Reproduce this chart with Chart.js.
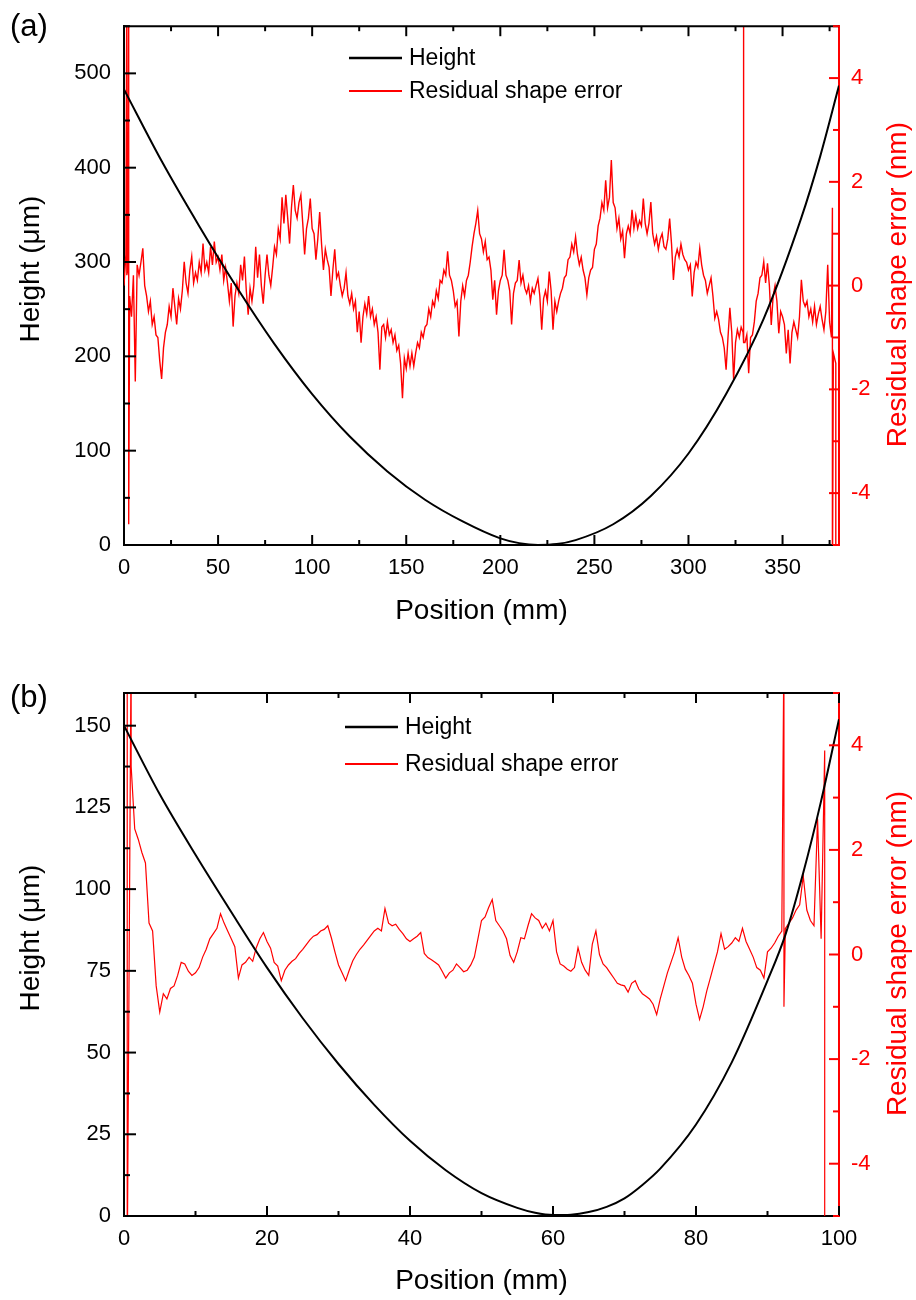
<!DOCTYPE html>
<html>
<head>
<meta charset="utf-8">
<title>Height and residual shape error</title>
<script src="https://cdn.jsdelivr.net/npm/chart.js@4.4.1/dist/chart.umd.min.js"></script>
<style>
  body { margin: 0; background: #fff; }
  canvas { display: block; }
</style>
</head>
<body>
<canvas id="panelA" width="916" height="630"></canvas>
<canvas id="panelB" width="916" height="670"></canvas>
<script>
const rightTicks = [-4, -2, 0, 2, 4]

// ---------- panel (a) ----------
const heightPosA = [0, 20, 40, 60, 80, 100, 120, 140, 160, 180, 200, 210, 220, 230, 240, 260, 280, 300, 320, 340, 360, 370, 380]
const heightA = [483, 407, 338, 273, 213, 160, 115, 78, 48, 25, 7, 2, 0.1, 1, 5.2, 22, 52, 97, 160, 240, 347, 412, 487]
const errStartA = 0
const errStepA = 1 // mm between residual samples
const errA = [
  0.0, 0.6, 0.3, -0.2, -0.6, 0.2, -1.85, 0.4, 0.2, 0.45,
  0.72, 0.0, -0.2, -0.5, -0.3, -0.75, -0.6, -0.95, -1.0, -1.45,
  -1.8, -1.2, -0.9, -0.75, -0.4, -0.6, -0.05, -0.4, -0.75, -0.25,
  -0.45, -0.1, 0.46, 0.05, -0.15, 0.3, 0.56, 0.05, 0.25, 0.1,
  0.45, 0.25, 0.81, 0.3, 0.45, 0.25, 0.75, 0.4, 0.85, 0.45,
  0.55, 0.3, 0.6, 0.1, 0.35, 0.05, -0.3, 0.05, -0.79, -0.2,
  0.05, -0.15, 0.4, 0.1, 0.56, -0.1, -0.56, -0.05, -0.3, 0.0,
  0.75, 0.15, 0.6, 0.0, -0.35, 0.2, 0.6, 0.2, 0.0, 0.35,
  0.75, 0.6, 1.1, 0.9, 1.7, 1.2, 1.75, 1.3, 0.81, 1.5,
  1.94, 1.45, 1.3, 1.6, 1.75, 1.2, 0.6, 1.1, 1.3, 1.68,
  1.1, 1.0, 0.5, 0.9, 1.42, 0.8, 0.3, 0.7, 0.5, 0.35,
  -0.2, 0.3, 0.7, 0.15, 0.25, 0.0, -0.2, -0.05, 0.25, -0.2,
  -0.35, -0.15, -0.45, -0.3, -0.9, -0.5, -1.1, -0.6, -0.35, -0.55,
  -0.2, -0.6, -0.45, -0.75, -0.6, -0.9, -1.62, -0.8, -0.75, -1.0,
  -0.7, -0.95, -0.85, -1.1, -0.95, -1.25, -1.15, -1.5, -2.17, -1.4,
  -1.6, -1.3, -1.55, -1.3, -1.55, -1.3, -1.1, -1.2, -0.9, -1.0,
  -0.8, -0.75, -0.45, -0.6, -0.3, -0.4, -0.1, -0.25, 0.1, 0.05,
  0.3, 0.2, 0.66, 0.2, 0.1, -0.1, -0.4, -0.3, -0.98, -0.3,
  0.0, -0.2, 0.1, 0.2, 0.45, 0.75, 1.0, 1.2, 1.45, 1.0,
  0.9, 0.65, 0.85, 0.5, 0.55, 0.3, -0.27, 0.1, -0.56, -0.1,
  0.1, 0.2, 0.69, 0.2, 0.1, -0.1, -0.75, -0.15, 0.05, 0.1,
  0.49, 0.05, 0.2, -0.05, -0.15, 0.0, -0.3, -0.05, -0.15, 0.0,
  0.14, -0.2, -0.85, -0.25, -0.1, -0.3, 0.27, -0.1, -0.85, -0.3,
  -0.5, -0.3, -0.15, -0.05, 0.15, 0.2, 0.5, 0.55, 0.8, 0.65,
  0.94, 0.6, 0.4, 0.55, 0.3, 0.15, -0.18, 0.15, 0.3, 0.35,
  0.7, 0.8, 1.15, 1.3, 1.6, 1.45, 2.03, 1.5, 1.7, 2.42,
  1.6, 1.5, 1.1, 1.3, 0.9, 1.05, 0.53, 1.0, 1.15, 1.0,
  1.46, 1.1, 1.35, 1.1, 1.25, 1.15, 1.68, 1.2, 1.0, 1.2,
  1.61, 1.0, 0.8, 0.95, 0.7, 0.9, 1.0, 0.75, 0.7, 0.9,
  1.29, 0.8, 0.11, 0.55, 0.7, 0.55, 0.8, 0.6, 0.5, 0.45,
  0.3, 0.4, -0.21, 0.25, 0.45, 0.35, 0.72, 0.4, 0.2, 0.1,
  -0.15, 0.0, 0.15, -0.2, -0.63, -0.5, -0.65, -0.9, -1.0, -1.2,
  -1.62, -1.0, -0.43, -0.9, -1.81, -1.1, -0.85, -1.0, -0.8, -0.9,
  -1.1, -0.95, -1.69, -1.0, -0.95, -0.7, -0.3, -0.15, 0.15, 0.2,
  0.46, 0.05, 0.43, 0.0, -0.76, -0.2, 0.0, -0.3, -0.92, -0.5,
  -0.6, -0.75, -1.31, -0.85, -1.5, -0.9, -0.7, -0.85, -1.0, -0.6,
  0.11, -0.3, -0.4, -0.3, -0.6, -0.45, -0.7, -0.4, -0.75, -0.55,
  -0.4, -0.65, -0.85, -0.5, 0.4, -0.7, -1.0, -1.3
]
// narrow spikes: [position mm, top nm, bottom nm]
const spikesA = [[1.5, 6, 0.2], [2.5, 5.5, -4.6], [329.3, 6, -1.1], [376.5, 1.5, -6], [378.3, -1.5, -6]]

// ---------- panel (b) ----------
const heightPosB = [0, 5, 10, 15, 20, 25, 30, 35, 40, 45, 50, 55, 57.5, 60, 62.5, 65, 67.5, 70, 72.5, 75, 80, 85, 90, 92.5, 95, 97.5, 100]
const heightB = [150, 129, 110.5, 93, 76, 60.5, 46.5, 34, 23, 14, 7, 2.5, 1.0, 0.3, 0.4, 1.2, 2.8, 5.4, 9.5, 14.5, 28, 47, 72, 86, 105, 127, 152]
const errStartB = 1.5
const errStepB = 0.5
const errB = [
  2.4, 2.2, 1.95, 1.75, 0.6, 0.45, -0.6,
  -1.1, -0.75, -0.85, -0.65, -0.6, -0.4, -0.15, -0.18, -0.32, -0.4,
  -0.35, -0.25, -0.05, 0.1, 0.3, 0.4, 0.5, 0.78, 0.6, 0.45,
  0.3, 0.15, -0.45, -0.2, -0.15, -0.05, -0.13, 0.13, 0.3, 0.42,
  0.25, 0.12, -0.15, -0.22, -0.5, -0.3, -0.2, -0.13, -0.08, 0.02,
  0.1, 0.19, 0.28, 0.35, 0.38, 0.45, 0.48, 0.55, 0.32, 0.05,
  -0.2, -0.35, -0.5, -0.3, -0.12, 0.0, 0.1, 0.18, 0.27, 0.36,
  0.45, 0.5, 0.45, 0.88, 0.6, 0.55, 0.58, 0.48, 0.4, 0.3,
  0.25, 0.3, 0.35, 0.42, 0.02, -0.06, -0.1, -0.15, -0.2, -0.32,
  -0.45, -0.35, -0.3, -0.18, -0.25, -0.33, -0.3, -0.2, -0.05, 0.3,
  0.65, 0.72, 0.9, 1.05, 0.65, 0.55, 0.45, 0.3, -0.02, -0.15,
  0.05, 0.32, 0.3, 0.55, 0.78, 0.7, 0.65, 0.5, 0.6, 0.45,
  0.65, 0.05, -0.18, -0.22, -0.28, -0.32, -0.25, 0.13, -0.15, -0.3,
  -0.4, 0.2, 0.45, 0.0, -0.18, -0.25, -0.35, -0.45, -0.55, -0.58,
  -0.6, -0.72, -0.55, -0.5, -0.66, -0.75, -0.8, -0.85, -0.95, -1.15,
  -0.85, -0.6, -0.35, -0.15, 0.05, 0.32, -0.05, -0.28, -0.4, -0.55,
  -0.95, -1.24, -1.0, -0.7, -0.45, -0.2, 0.05, 0.4, 0.1, 0.15,
  0.22, 0.32, 0.25, 0.5, 0.25, 0.1, -0.05, -0.25, -0.3, -0.45,
  0.05, 0.12, 0.22, 0.35, 0.45, 0.5, 0.6, 0.7, 0.85, 0.95,
  1.5, 0.85, 0.65, 0.55, 2.6, 0.3
]
const spikesB = [[0.45, 6, -6], [1.0, 6, 3.6], [92.3, 6, -1.0], [98.0, 3.9, -6]]

const RED = '#ff0000'
Chart.defaults.font.family = '"Liberation Sans", Arial, sans-serif'

function line(ctx, x1, y1, x2, y2) {
  ctx.beginPath()
  ctx.moveTo(x1, y1)
  ctx.lineTo(x2, y2)
  ctx.stroke()
}

// regular samples plus vertical spikes, ordered along x
function residual(start, step, vals, spikes) {
  const pts = vals.map((y, i) => ({ x: start + i * step, y }))
  spikes.forEach(([x, hi, lo]) => pts.push({ x, y: hi }, { x, y: lo }))
  return pts.sort((p, q) => p.x - q.x)
}

// walk a scale in minor steps, flag the major ones
function eachTick(scale, minor, major, fn) {
  const n = Math.floor((scale.max - scale.min) / minor + 1e-9)
  for (let k = 0; k <= n; k++) {
    const v = scale.min + k * minor
    const r = v / major
    fn(scale.getPixelForValue(v), Math.abs(r - Math.round(r)) < 1e-6)
  }
}

// inward ticks, top frame, legend, side titles and panel letter
const decor = {
  id: 'decor',
  afterDatasetsDraw(chart, args, o) {
    const { ctx, chartArea: a, scales } = chart
    ctx.save()
    ctx.lineWidth = 2
    ctx.strokeStyle = '#000'
    line(ctx, a.left, a.top, a.right, a.top)
    eachTick(scales.x, o.xMinor, o.xMajor, (px, major) => {
      const len = major ? 10 : 5
      line(ctx, px, a.bottom, px, a.bottom - len)
      line(ctx, px, a.top, px, a.top + len)
    })
    eachTick(scales.y, o.yMinor, o.yMajor, (py, major) => {
      line(ctx, a.left, py, a.left + (major ? 12 : 6), py)
    })
    ctx.strokeStyle = RED
    eachTick(scales.y2, 1, 2, (py, major) => {
      line(ctx, a.right, py, a.right - (major ? 10 : 6), py)
    })
    ctx.restore()
  },
  afterDraw(chart, args, o) {
    const { ctx, chartArea: a } = chart
    ctx.save()
    // legend
    ctx.font = '23px "Liberation Sans", Arial, sans-serif'
    ctx.textAlign = 'left'
    ctx.textBaseline = 'middle'
    chart.data.datasets.forEach((ds, i) => {
      const y = o.legend.y + i * o.legend.gap
      ctx.strokeStyle = ds.borderColor
      ctx.lineWidth = i === 0 ? 2.5 : 2
      line(ctx, o.legend.x, y, o.legend.x + 53, y)
      ctx.fillStyle = '#000'
      ctx.fillText(ds.label, o.legend.tx, y + 1)
    })
    // side titles, both read bottom to top
    ctx.font = '28px "Liberation Sans", Arial, sans-serif'
    ctx.textAlign = 'center'
    const midY = (a.top + a.bottom) / 2
    ctx.save()
    ctx.translate(31, midY - 16.5)
    ctx.rotate(-Math.PI / 2)
    ctx.fillStyle = '#000'
    ctx.fillText('Height (\u03bcm)', 0, 0)
    ctx.restore()
    ctx.save()
    ctx.translate(898, midY - 1)
    ctx.rotate(-Math.PI / 2)
    ctx.fillStyle = RED
    ctx.fillText('Residual shape error (nm)', 0, 0)
    ctx.restore()
    // panel letter
    ctx.font = '31px "Liberation Sans", Arial, sans-serif'
    ctx.textAlign = 'left'
    ctx.fillStyle = '#000'
    ctx.fillText(o.letter, 10, o.letterY)
    ctx.restore()
  }
}

function makePanel(id, p) {
  const tickFont = { size: 22 }
  return new Chart(document.getElementById(id), {
    type: 'line',
    data: {
      datasets: [
        {
          label: 'Height',
          data: p.heightPos.map((x, i) => ({ x, y: p.height[i] })),
          yAxisID: 'y',
          borderColor: '#000',
          borderWidth: 2,
          pointRadius: 0,
          cubicInterpolationMode: 'monotone'
        },
        {
          label: 'Residual shape error',
          data: residual(p.errStart, p.errStep, p.err, p.spikes),
          yAxisID: 'y2',
          borderColor: RED,
          borderWidth: p.errWidth,
          pointRadius: 0
        }
      ]
    },
    options: {
      responsive: false,
      animation: false,
      events: [],
      layout: { padding: { top: p.top, left: 0, right: 0, bottom: 0 } },
      plugins: {
        legend: { display: false },
        tooltip: { enabled: false },
        decor: p.decor
      },
      scales: {
        x: {
          type: 'linear', min: 0, max: p.xMax,
          grid: { display: false, drawTicks: false },
          border: { color: '#000', width: 2 },
          ticks: { stepSize: p.xStep, includeBounds: false, autoSkip: false, maxRotation: 0, padding: 10, color: '#000', font: tickFont },
          title: { display: true, text: 'Position (mm)', color: '#000', font: { size: 28 }, padding: { top: 0, bottom: 2 } },
          afterFit: s => { s.height = p.xAxisH }
        },
        y: {
          position: 'left', min: 0, max: p.yMax,
          grid: { display: false, drawTicks: false },
          border: { color: '#000', width: 2 },
          ticks: { stepSize: p.yStep, includeBounds: false, padding: 13, color: '#000', font: tickFont },
          afterFit: s => { s.width = 124 }
        },
        y2: {
          position: 'right', min: -5, max: 5,
          grid: { display: false, drawTicks: false },
          border: { color: RED, width: 2 },
          ticks: { padding: 12, color: RED, font: tickFont },
          afterBuildTicks: s => { s.ticks = rightTicks.map(value => ({ value })) },
          afterFit: s => { s.width = 77 }
        }
      }
    },
    plugins: [decor]
  })
}

makePanel('panelA', {
  heightPos: heightPosA, height: heightA,
  err: errA, errStart: errStartA, errStep: errStepA, spikes: spikesA, errWidth: 1.4,
  top: 21, xAxisH: 85, xMax: 380, xStep: 50, yMax: 550, yStep: 100,
  decor: { xMinor: 25, xMajor: 50, yMinor: 50, yMajor: 100,
    legend: { x: 349, tx: 409, y: 58, gap: 33 }, letter: '(a)', letterY: 27 }
})

makePanel('panelB', {
  heightPos: heightPosB, height: heightB,
  err: errB, errStart: errStartB, errStep: errStepB, spikes: spikesB, errWidth: 1.2,
  top: 63, xAxisH: 84, xMax: 100, xStep: 20, yMax: 160, yStep: 25,
  decor: { xMinor: 10, xMajor: 20, yMinor: 12.5, yMajor: 25,
    legend: { x: 345, tx: 405, y: 97, gap: 37 }, letter: '(b)', letterY: 68 }
})
</script>
</body>
</html>
